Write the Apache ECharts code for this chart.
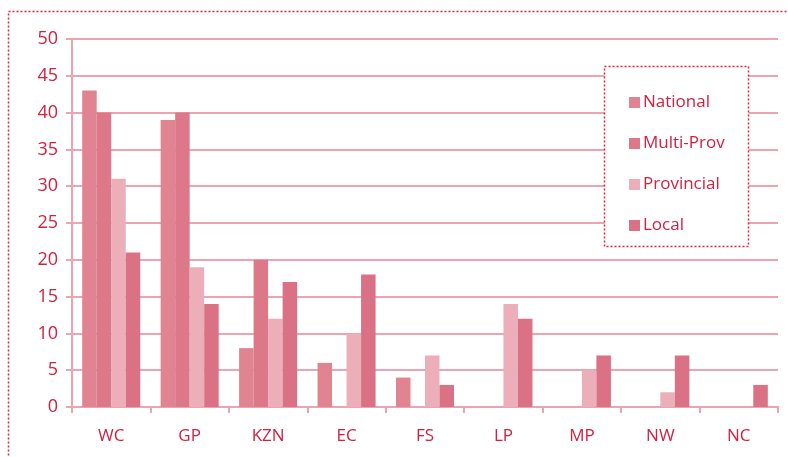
<!DOCTYPE html>
<html>
<head>
<meta charset="utf-8">
<script src="https://cdn.jsdelivr.net/npm/echarts@6/dist/echarts.min.js"></script>
<style>html,body{margin:0;padding:0;background:#fff}#c{width:788px;height:457px}</style>
</head>
<body>
<div id="c"></div>
<script>
var categories = ['WC','GP','KZN','EC','FS','LP','MP','NW','NC'];
var national   = [43, 39, 8, 6, 4, 0, 0, 0, 0];
var multiProv  = [40, 40, 20, 0, 0, 0, 0, 0, 0];
var provincial = [31, 19, 12, 10, 7, 14, 5, 2, 0];
var local      = [21, 14, 17, 18, 3, 12, 7, 7, 3];
var seriesNames = ['National','Multi-Prov','Provincial','Local'];
var yTicks = [0, 5, 10, 15, 20, 25, 30, 35, 40, 45, 50];

var colors = ['#e08492','#dd7888','#ecaeb9','#db7184'];
var textColor = '#d0213f';
var axisColor = '#eba5b2';
var font = 'Open Sans';

var chart = echarts.init(document.getElementById('c'), null, {renderer:'canvas'});
var dataSets = [national, multiProv, provincial, local];
chart.setOption({
  animation: false,
  backgroundColor: '#fff',
  color: colors,
  textStyle: {fontFamily: font},
  graphic: [
    {type:'rect', z:1, silent:true, shape:{x:8.5, y:11.5, width:800, height:500},
     style:{fill:'none', stroke:'#d8283f', lineWidth:1.5, lineDash:[2,2]}},
    {type:'rect', z:3, silent:true, shape:{x:604.5, y:66.5, width:144, height:180},
     style:{fill:'#fff', stroke:'#d8283f', lineWidth:1.5, lineDash:[2,2]}}
  ],
  legend: {
    data: seriesNames,
    orient: 'vertical',
    left: 624, top: 89,
    z: 5,
    itemWidth: 11, itemHeight: 11, itemGap: 24,
    icon: 'rect',
    textStyle: {fontSize: 17, color: textColor, fontFamily: font, padding:[0,0,0,-2]}
  },
  grid: {left: 72, right: 10, top: 39, bottom: 50},
  xAxis: {
    type: 'category',
    data: categories,
    axisLine: {show:true, lineStyle:{color: axisColor, width: 2}},
    axisTick: {show:true, length: 6, lineStyle:{color: axisColor, width: 2}},
    axisLabel: {fontSize: 17, color: textColor, margin: 21, fontFamily: font},
    splitLine: {show:false}
  },
  yAxis: {
    type: 'value',
    min: yTicks[0], max: yTicks[yTicks.length-1], interval: 5,
    axisLine: {show:true, lineStyle:{color: axisColor, width: 2}},
    axisTick: {show:true, length: 6, lineStyle:{color: axisColor, width: 2}},
    axisLabel: {fontSize: 18, color: textColor, margin: 14, fontFamily: font},
    splitLine: {show:true, lineStyle:{color: axisColor, width: 2}}
  },
  series: seriesNames.map(function(n, i){
    return {
      name: n, type: 'bar', data: dataSets[i],
      barGap: '0%', barCategoryGap: '26%',
      itemStyle: {color: colors[i]}
    };
  })
});
</script>
</body>
</html>
